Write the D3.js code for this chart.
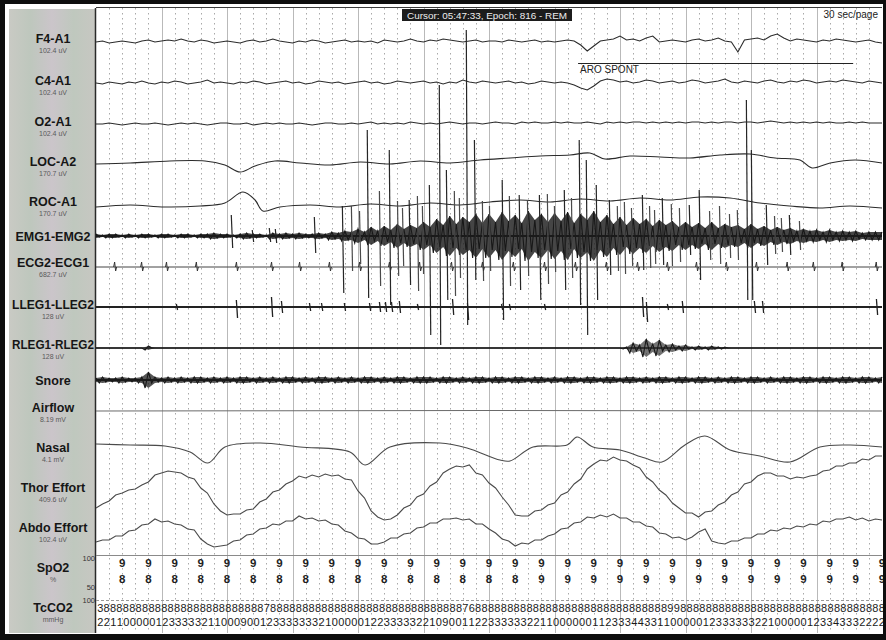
<!DOCTYPE html>
<html>
<head>
<meta charset="utf-8">
<script src="https://cdn.jsdelivr.net/npm/d3@7"></script>
<style>
  html, body { margin: 0; padding: 0; background: #fff; }
  svg { display: block; font-family: "Liberation Sans", Arial, sans-serif; }
  .grid-minor { stroke: #a9a9a9; stroke-dasharray: 1.5,3.5; }
  .grid-major { stroke: #b9b9b9; }
  .trace { fill: none; stroke: #2b2b2b; stroke-width: 1.1; }
  .trace-soft { fill: none; stroke: #4a4a4a; stroke-width: 1.1; }
  .ch-name { fill: #161616; font-size: 12.5px; font-weight: bold; text-anchor: middle; }
  .ch-unit { fill: #5a5a5a; font-size: 7px; text-anchor: middle; }
  .digit { fill: #1e1e1e; font-size: 11.5px; font-weight: bold; text-anchor: middle; }
  .tc { fill: #1a1a1a; font-size: 11px; text-anchor: middle; }
  .small { fill: #333; font-size: 7.5px; text-anchor: end; }
</style>
</head>
<body>
<svg id="chart" width="886" height="640"></svg>
<script>
// ---------- data ----------
const epochSeconds = 30
const eegStep = 0.25   // seconds between samples of the sampled traces

const cursorText = 'Cursor: 05:47:33, Epoch: 816 - REM'
const pageText = '30 sec/page'

const channelNames = ['F4-A1', 'C4-A1', 'O2-A1', 'LOC-A2', 'ROC-A1', 'EMG1-EMG2', 'ECG2-ECG1', 'LLEG1-LLEG2',
    'RLEG1-RLEG2', 'Snore', 'Airflow', 'Nasal', 'Thor Effort', 'Abdo Effort', 'SpO2', 'TcCO2']
const channelUnits = ['102.4 uV', '102.4 uV', '102.4 uV', '170.7 uV', '170.7 uV', '', '682.7 uV', '128 uV',
    '128 uV', '', '8.19 mV', '4.1 mV', '409.6 uV', '102.4 uV', '%', 'mmHg']

const f4A1 = [
    0, 1, -1, 0, 1, 0, -1, 1, 2, 0,
    1, 2, 1, 3, 1, 0, 2, 1, -1, 0,
    1, 0, -1, 1, 2, 0, 1, 3, 1, 0,
    -1, 1, 0, 2, 1, -1, 0, 1, 2, 0,
    1, 0, 1, -1, 2, 1, 0, 1, 3, 1,
    0, 2, 1, 3, 2, 1, 0, 1, 2, 0,
    1, 1, 0, 2, 1, 0, 1, 2, 0, 1,
    0, 1, 2, 1, -3, -9, -4, 1, 2, 3,
    6, 2, 3, 1, 4, 6, 0, 1, 2, 1,
    0, 2, 3, 1, 2, 4, 1, 0, -10, 2,
    3, 4, 2, 6, 8, 4, 1, 3, 2, 1,
    0, 2, 1, 3, 2, 1, 0, 1, 2, 0,
    -1]
const c4A1 = [
    0, -1, 1, 0, -1, 1, 0, 2, 0, -1,
    1, 0, 2, 1, -1, 0, 1, 3, 0, 1,
    0, -1, 1, 0, 2, 1, -1, 0, 1, 2,
    0, 1, -1, 0, 2, 1, 0, 1, -1, 0,
    1, 2, 0, 1, -1, 0, 2, 1, 0, 1,
    2, 0, 1, -1, 1, 0, 3, 1, 0, 2,
    1, 0, 1, 2, 0, 1, -1, 0, 2, 1,
    0, 1, 0, -2, -5, -7, -3, 2, 4, 3,
    1, 2, 0, 1, 3, 2, 0, 1, 2, 0,
    1, 3, 2, 0, 1, 2, 4, 1, 0, 2,
    1, 0, 2, 3, 1, 0, 2, 1, 3, 2,
    0, 1, 2, 1, 3, 2, 1, 0, 2, 1,
    0]
const o2A1 = [
    0, 0, 1, 0, -1, 0, 1, 0, 0, 1,
    0, -1, 0, 1, 0, 1, 0, -1, 0, 1,
    1, 0, 0, 1, -1, 0, 1, 0, 1, 0,
    0, 1, 0, -1, 0, 1, 1, 0, 0, 1,
    0, 1, 2, 0, 1, 0, 1, 0, 2, 1,
    0, 1, 0, 1, 2, 1, 0, 1, 1, 0,
    1, 2, 1, 1, 0, 2, 1, 2, 1, 1,
    2, 1, 2, 1, 1, 2, 1, 0, 2, 1,
    2, 1, 2, 2, 1, 2, 1, 2, 1, 2,
    1, 2, 2, 1, 2, 1, 2, 2, 1, 2,
    2, 1, 2, 3, 2, 1, 2, 1, 2, 1,
    2, 1, 2, 1, 1, 2, 1, 2, 1, 1,
    1]
const thorEffort = [
    -18, -14, -11, -5, -3, 0, 1, 5, 8, 15,
    17, 19, 18, 17, 13, 11, 2, -3, -14, -21,
    -25, -24, -24, -20, -19, -12, -9, -2, 0, 6,
    9, 14, 12, 15, 13, 16, 14, 15, 11, 10,
    -1, -8, -21, -27, -30, -29, -25, -18, -15, -7,
    -4, 4, 8, 17, 21, 24, 23, 25, 17, 15,
    7, 2, -7, -15, -25, -26, -26, -21, -20, -15,
    -13, -5, -2, 6, 11, 21, 26, 30, 29, 33,
    30, 29, 25, 22, 13, 8, 0, -5, -13, -18,
    -23, -23, -27, -22, -21, -15, -12, -5, -2, 6,
    8, 14, 17, 17, 14, 14, 11, 13, 12, 14,
    15, 19, 20, 24, 24, 27, 27, 31, 30, 34,
    34]
const abdoEffort = [
    -12, -10, -10, -6, -6, -1, 0, 5, 6, 11,
    8, 9, 6, 5, 1, 0, -9, -14, -17, -16,
    -15, -11, -10, -5, -4, 1, 2, 6, 5, 9,
    9, 14, 11, 12, 9, 10, 6, 5, -1, -3,
    -8, -9, -14, -14, -12, -8, -8, -4, -3, 2,
    3, 7, 7, 11, 11, 12, 10, 11, 6, 6,
    1, -3, -9, -11, -16, -13, -14, -10, -10, -6,
    -4, 1, 2, 7, 8, 13, 12, 15, 13, 16,
    12, 12, 8, 8, 4, 3, -3, -4, -8, -7,
    -10, -7, -2, 1, -11, -13, -14, -11, -11, -8,
    -8, -4, -4, 0, -1, 2, 1, 4, 3, 6,
    5, 9, 8, 11, 11, 13, 10, 12, 9, 11,
    10]

// slow channels: sample times (s) and values
const locT = [0, 1.3, 2.82, 4.16, 4.92, 5.5, 6.07, 6.83, 7.79, 8.93, 10.08, 11.22, 12.37, 13.51, 14.66, 15.8,
    16.95, 18.09, 18.85, 19.43, 20.38, 21.53, 22.67, 23.82, 24.96, 25.92, 26.87, 27.33, 28.02, 28.97, 30]
const locV = [-1, 0, 2, 2, -2, -9, -3, 2, 0, -2, 1, -1, 2, 0, 3, 5, 7, 8, 10, 4, 7, 6, 5, 8, 9, 5, 3, -5, 0, 3, 0]
const rocT = [0, 1.3, 2.63, 3.97, 4.92, 5.61, 6.07, 6.37, 7.02, 8.17, 9.31, 10.46, 11.6, 12.75, 13.89, 15.04,
    16.18, 17.33, 18.47, 19.62, 20.76, 21.91, 23.05, 24.2, 25.34, 26.49, 27.63, 28.78, 30]
const rocV = [-2, 0, -2, -1, 2, 13, 5, -6, -2, 0, -2, 1, -1, 2, 0, 3, 5, 3, 6, 4, 7, 5, 8, 7, 2, -1, -3, -1, -3]
const nasalT = [0, 1.3, 2.63, 3.59, 4.27, 4.92, 6.26, 7.79, 9.69, 10.27, 11.22, 13.13, 14.16, 15.42, 15.8, 16.68,
    17.98, 18.36, 18.97, 20.0, 20.95, 21.6, 22.48, 23.24, 24.2, 25.34, 26.49, 27.63, 28.78, 30]
const nasalV = [6, 5, 4, -2, -13, 3, 7, 3, -2, -15, 3, 7, 2, -10, -11, 3, 5, 13, 3, 0, -8, -12, 5, 14, 0, -6, -12, 3, 5, 3]
const airflowT = [0, 15, 30]
const airflowV = [0, 0.5, 0]

// envelope (half amplitude) of the dense traces
const emgEnv = [
    2, 1, 2, 2, 1, 2, 1, 2, 2, 1,
    2, 2, 1, 2, 2, 1, 2, 2, 3, 2,
    2, 1, 2, 3, 2, 2, 1, 3, 2, 3,
    2, 3, 2, 2, 3, 2, 4, 3, 5, 4,
    7, 4, 9, 5, 10, 6, 12, 7, 11, 8,
    14, 9, 17, 11, 20, 12, 19, 14, 22, 13,
    22, 14, 24, 15, 21, 13, 25, 16, 22, 14,
    23, 15, 24, 13, 22, 16, 25, 14, 21, 12,
    19, 11, 18, 12, 17, 10, 16, 11, 15, 9,
    14, 9, 13, 8, 14, 8, 12, 9, 11, 7,
    12, 7, 10, 6, 9, 6, 8, 5, 7, 5,
    6, 4, 6, 4, 5, 4, 5, 3, 4, 4,
    4]
const snoreEnv = [
    2, 3, 2, 2, 3, 2, 2, 3, 8, 3,
    2, 3, 2, 3, 2, 3, 3, 2, 3, 2,
    3, 2, 3, 3, 2, 3, 2, 3, 2, 3,
    3, 2, 3, 2, 3, 3, 2, 3, 2, 3,
    2, 3, 3, 2, 3, 2, 3, 3, 2, 3,
    3, 3, 2, 3, 3, 2, 3, 2, 3, 3,
    2, 3, 3, 2, 3, 3, 2, 3, 3, 2,
    3, 2, 3, 3, 2, 3, 3, 2, 3, 3,
    2, 3, 3, 2, 3, 2, 3, 3, 2, 3,
    3, 2, 3, 3, 2, 3, 2, 3, 3, 2,
    3, 3, 2, 3, 2, 3, 3, 2, 3, 3,
    2, 3, 3, 2, 3, 3, 2, 3, 3, 2,
    3]
const rlegEnv = [
    0, 0, 0, 0, 0, 0, 0, 0, 2, 0,
    0, 0, 0, 0, 0, 0, 0, 0, 0, 0,
    0, 0, 0, 0, 0, 0, 0, 0, 0, 0,
    0, 0, 0, 0, 0, 0, 0, 0, 0, 0,
    0, 0, 0, 0, 0, 0, 0, 0, 0, 0,
    0, 0, 0, 0, 0, 0, 0, 0, 0, 0,
    0, 0, 0, 0, 0, 0, 0, 0, 0, 0,
    0, 0, 0, 0, 0, 0, 0, 0, 0, 0,
    0, 1, 5, 3, 9, 4, 8, 3, 4, 2,
    3, 1, 2, 1, 2, 1, 1, 0, 0, 0,
    0, 0, 0, 0, 0, 0, 0, 0, 0, 0,
    0, 0, 0, 0, 0, 0, 0, 0, 0, 0,
    0]

// large EMG discharges: time (s), extent above / below the EMG baseline
const emgSpikeT = [5.19, 5.99, 6.64, 6.87, 8.36, 9.43, 10.38, 11.22, 11.98, 12.75, 13.13, 13.4, 14.16, 14.47,
    15.53, 16.18, 16.95, 17.9, 18.47, 18.74, 19.12, 19.62, 20.88, 21.64, 22.67, 23.05, 24.85, 25.04, 25.61, 26.49]
const emgSpikeUp = [21, 6, 8, 7, 19, 30, 106, 86, 36, 51, 151, 66, 206, 96, 56, 41, 41, 46, 96, 76, 51, 36, 41,
    38, 31, 46, 136, 86, 31, 21]
const emgSpikeDown = [12, 6, 6, 7, 17, 57, 62, 69, 49, 99, 109, 64, 89, 44, 84, 54, 64, 54, 69, 99, 64, 39, 34,
    29, 19, 44, 64, 64, 29, 19]
// smaller discharges inside the burst
const emgBurstT = [9.77, 10.08, 10.84, 11.53, 11.72, 12.29, 12.48, 13.7, 13.89, 14.77, 15.04, 15.8, 16.49, 17.25,
    17.52, 18.17, 19.92, 20.19, 20.46, 21.15, 21.34, 21.98, 22.29, 23.44, 23.82, 24.2, 24.5, 25.92, 26.18, 26.87]
const emgBurstUp = [30, 25, 45, 35, 28, 40, 30, 45, 38, 35, 30, 40, 36, 42, 30, 38, 30, 34, 28, 30, 26, 32, 28,
    25, 30, 22, 26, 20, 18, 15]
const emgBurstDown = [35, 28, 50, 40, 30, 55, 38, 60, 42, 45, 35, 50, 40, 48, 36, 42, 35, 38, 30, 32, 28, 30, 26,
    24, 28, 22, 24, 18, 16, 14]

const ecgBeatT = [0.73, 1.76, 2.71, 3.85, 5.38, 6.72, 7.79, 8.93, 10.08, 11.22, 12.37, 13.59, 14.77, 15.95, 17.14,
    18.32, 19.5, 20.69, 21.83, 22.94, 24.08, 25.23, 26.4, 27.4, 28.5, 29.8]

const llegSpikeT = [3.09, 5.38, 6.72, 7.1, 8.17, 8.63, 9.5, 10.46, 10.84, 11.07, 11.3, 11.6, 12.29, 13.63, 14.2,
    15.5, 15.8, 17.14, 20.88, 21.03, 21.83, 22.4, 25.15, 25.46, 29.81]
const llegSpikeUp = [3, 7, 10, 6, 4, 4, 4, 4, 5, 5, 5, 6, 3, 8, 4, 3, 3, 3, 10, 5, 3, 6, 6, 6, 8]
const llegSpikeDown = [3, 11, 10, 6, 4, 4, 4, 4, 5, 5, 5, 6, 3, 8, 13, 3, 3, 3, 10, 15, 3, 6, 6, 6, 8]

const eventLabels = ['ARO SPONT']
const eventStart = [18.4]
const eventEnd = [28.9]

// SpO2 (%) once per second, seconds 1..30
const spo2 = [98, 98, 98, 98, 98, 98, 98, 98, 98, 98, 98, 98, 98, 98, 98, 98,
    99, 99, 99, 99, 99, 99, 99, 99, 99, 99, 99, 99, 99, 99]
const spo2Ticks = ['100', '50']
const tcco2Ticks = ['100']
const tcco2Top = '3888888888' + '8888888888' + '8888887888' + '8888888888' + '8888888888' + '8888888768' +
    '8888888888' + '8888888888' + '8888888889' + '9888888888' + '8888888888' + '8888888888' + '888'
const tcco2Bottom = '2211000001' + '2333332110' + '0090012333' + '3' +
    '3332100000' + '1223333322' + '1090011223' + '3333322110' + '000001' +
    '1233344331' + '1000001233' + '3333221000' + '0012334333' + '2222'

// ---------- layout ----------
const W = 886, H = 640
const plot = { left: 96, right: 882, top: 8, bottom: 633 }
const panel = { left: 9, right: 95, cx: 53 }
const nameY = [44, 86, 127, 167, 207, 242, 268, 310, 350, 386, 413, 453, 493, 533, 573, 613]
const base = { f4: 42, c4: 83, o2: 124, loc: 163, roc: 205, emg: 236, ecg: 267, lleg: 307, rleg: 348,
    snore: 380, airflow: 411, nasal: 450, thor: 490, abdo: 530 }

const svg = d3.select('#chart')
const x = d3.scaleLinear().domain([0, epochSeconds]).range([plot.left, plot.right])
const rowScale = (b) => d3.scaleLinear().domain([-1, 1]).range([b + 1, b - 1])

// frame
svg.append('rect').attr('width', W).attr('height', H).attr('fill', '#0e0e0e')
svg.append('rect').attr('x', 5).attr('y', 4).attr('width', 878).attr('height', 630).attr('fill', '#fff')

// label panel
const defs = svg.append('defs')
const grad = defs.append('linearGradient').attr('id', 'panelGrad')
const stops = [[0, '#c9cac4'], [0.25, '#bec7bd'], [0.5, '#cbc5ca'], [0.75, '#bfc8be'], [1, '#c7c7c2']]
stops.forEach(s => grad.append('stop').attr('offset', s[0]).attr('stop-color', s[1]))
svg.append('rect').attr('x', panel.left).attr('y', 9).attr('width', panel.right - panel.left)
    .attr('height', plot.bottom - 9).attr('fill', 'url(#panelGrad)')

// grid
const minorTicks = d3.range(0.5, epochSeconds, 0.5).filter(t => Math.abs(t / 2.5 - Math.round(t / 2.5)) > 1e-6)
const majorTicks = d3.range(2.5, epochSeconds, 2.5)
const gridG = svg.append('g')
gridG.selectAll('.grid-minor').data(minorTicks).join('line').attr('class', 'grid-minor')
    .attr('x1', t => Math.round(x(t)) + 0.5).attr('x2', t => Math.round(x(t)) + 0.5)
    .attr('y1', plot.top).attr('y2', plot.bottom)
gridG.selectAll('.grid-major').data(majorTicks).join('line').attr('class', 'grid-major')
    .attr('x1', t => Math.round(x(t)) + 0.5).attr('x2', t => Math.round(x(t)) + 0.5)
    .attr('y1', plot.top).attr('y2', plot.bottom)

// plot borders
svg.append('path').attr('d', `M ${plot.left - 0.5} ${plot.top} V ${plot.bottom}`).attr('stroke', '#2a2a2a').attr('stroke-width', 1.5)
svg.append('path').attr('d', `M ${plot.left} ${plot.top - 0.5} H ${plot.right}`).attr('stroke', '#3a3a3a').attr('stroke-width', 1)
svg.append('path').attr('d', `M ${plot.left} 555.5 H ${plot.right}`).attr('stroke', '#8a8a8a').attr('stroke-width', 1)
svg.append('path').attr('d', `M ${plot.left} 600.5 H ${plot.right}`).attr('stroke', '#999').attr('stroke-dasharray', '3,2')

// header
svg.append('rect').attr('x', 402).attr('y', 9).attr('width', 170).attr('height', 12).attr('fill', '#1c1c1c')
svg.append('text').attr('x', 487).attr('y', 18.5).attr('text-anchor', 'middle').attr('fill', '#eee')
    .attr('font-size', 9).attr('textLength', 160).attr('lengthAdjust', 'spacingAndGlyphs').text(cursorText)
svg.append('text').attr('x', 878).attr('y', 18).attr('text-anchor', 'end').attr('fill', '#222')
    .attr('font-size', 10).text(pageText)

// channel labels
const labG = svg.append('g')
labG.selectAll('.ch-name').data(channelNames).join('text').attr('class', 'ch-name')
    .attr('x', panel.cx).attr('y', (d, i) => nameY[i] - 1).text(d => d)
    .each(function () {
        if (this.getComputedTextLength() > 82) d3.select(this).attr('textLength', 82).attr('lengthAdjust', 'spacingAndGlyphs')
    })
labG.selectAll('.ch-unit').data(channelUnits).join('text').attr('class', 'ch-unit')
    .attr('x', panel.cx).attr('y', (d, i) => nameY[i] + 8.5).text(d => d)

const traceG = svg.append('g')

// sampled channels
const sampledLine = (b) => d3.line().x((d, i) => x(i * eegStep)).y(d => rowScale(b)(d))
;[[f4A1, base.f4], [c4A1, base.c4], [o2A1, base.o2]].forEach(([vals, b]) => {
    traceG.append('path').datum(vals).attr('class', 'trace').attr('d', sampledLine(b))
})
;[[thorEffort, base.thor], [abdoEffort, base.abdo]].forEach(([vals, b]) => {
    traceG.append('path').datum(vals).attr('class', 'trace-soft').attr('d', sampledLine(b))
})

// slow channels
const slowLine = (times, b) => d3.line().x((d, i) => x(times[i])).y(d => rowScale(b)(d)).curve(d3.curveCatmullRom.alpha(0.5))
;[[locT, locV, base.loc], [rocT, rocV, base.roc]].forEach(([t, v, b]) => {
    traceG.append('path').datum(v).attr('class', 'trace').attr('d', slowLine(t, b))
})
traceG.append('path').datum(nasalV).attr('class', 'trace-soft').attr('d', slowLine(nasalT, base.nasal))

traceG.append('path').datum(airflowV).attr('fill', 'none').attr('stroke', '#6a6a6a').attr('stroke-width', 1)
    .attr('d', d3.line().x((d, i) => x(airflowT[i])).y(d => rowScale(base.airflow)(d)))

// dense channels drawn as an envelope band + oscillation inside it
function drawBand(env, b, fill, lineW) {
    const y = rowScale(b)
    traceG.append('path').datum(env).attr('fill', fill)
        .attr('d', d3.area().x((d, i) => x(i * eegStep)).y0(d => y(-d)).y1(d => y(d)))
    const pts = []
    env.forEach((d, i) => { pts.push([i * eegStep, d]); pts.push([(i + 0.5) * eegStep, -(env[i + 1] ?? d)]) })
    traceG.append('path').datum(pts.filter(p => p[0] <= epochSeconds)).attr('fill', 'none')
        .attr('stroke', '#181818').attr('stroke-width', 1.1)
        .attr('d', d3.line().x(p => x(p[0])).y(p => y(p[1])))
    traceG.append('path').attr('d', `M ${plot.left} ${y(0)} H ${plot.right}`).attr('stroke', '#1a1a1a').attr('stroke-width', lineW)
}
drawBand(emgEnv, base.emg, 'rgba(28,28,28,0.82)', 2)
drawBand(snoreEnv, base.snore, 'rgba(30,30,30,0.75)', 2)
drawBand(rlegEnv, base.rleg, 'rgba(40,40,40,0.65)', 1.3)

// EMG discharges
const yEmg = rowScale(base.emg)
traceG.selectAll('.emg-burst').data(emgBurstT).join('path').attr('class', 'emg-burst')
    .attr('d', (t, i) => `M ${x(t) - 0.6} ${yEmg(emgBurstUp[i])} L ${x(t) + 0.6} ${yEmg(-emgBurstDown[i])}`)
    .attr('stroke', '#4a4a4a').attr('stroke-width', 1.2).attr('fill', 'none')
traceG.selectAll('.emg-spike').data(emgSpikeT).join('path').attr('class', 'emg-spike')
    .attr('d', (t, i) => `M ${x(t) - 0.7} ${yEmg(emgSpikeUp[i])} L ${x(t) + 0.7} ${yEmg(-emgSpikeDown[i])}`)
    .attr('stroke', '#262626').attr('stroke-width', 1.2).attr('fill', 'none')

// ECG
const yEcg = rowScale(base.ecg)
traceG.append('path').attr('d', `M ${plot.left} ${yEcg(0)} H ${plot.right}`).attr('stroke', '#444').attr('stroke-width', 1)
traceG.selectAll('.ecg-beat').data(ecgBeatT).join('path').attr('class', 'ecg-beat')
    .attr('d', t => `M ${x(t) - 1.5} ${yEcg(0)} L ${x(t) - 0.5} ${yEcg(5)} L ${x(t) + 0.5} ${yEcg(-4)} L ${x(t) + 1.5} ${yEcg(0)}`)
    .attr('stroke', '#333').attr('stroke-width', 1).attr('fill', 'none')

// LLEG
const yLleg = rowScale(base.lleg)
traceG.append('path').attr('d', `M ${plot.left} ${yLleg(0)} H ${plot.right}`).attr('stroke', '#222').attr('stroke-width', 1.8)
traceG.selectAll('.lleg-spike').data(llegSpikeT).join('path').attr('class', 'lleg-spike')
    .attr('d', (t, i) => `M ${x(t) - 0.6} ${yLleg(llegSpikeUp[i])} L ${x(t) + 0.6} ${yLleg(-llegSpikeDown[i])}`)
    .attr('stroke', '#222').attr('stroke-width', 1.3).attr('fill', 'none')

// scoring event
const evG = svg.append('g')
evG.selectAll('.ev-line').data(eventLabels).join('path').attr('class', 'ev-line')
    .attr('d', (d, i) => `M ${x(eventStart[i])} 63.5 H ${x(eventEnd[i])}`).attr('stroke', '#222').attr('stroke-width', 1.2)
evG.selectAll('.ev-text').data(eventLabels).join('text').attr('class', 'ev-text')
    .attr('x', (d, i) => x(eventStart[i]) + 2).attr('y', 73).attr('font-size', 10).attr('fill', '#222').text(d => d)

// SpO2 digits
const spoG = svg.append('g')
spoG.selectAll('.spo-top').data(spo2).join('text').attr('class', 'digit')
    .attr('x', (d, i) => x(i + 1)).attr('y', 567).text(d => String(d)[0])
spoG.selectAll('.spo-bot').data(spo2).join('text').attr('class', 'digit')
    .attr('x', (d, i) => x(i + 1)).attr('y', 583).text(d => String(d)[1])
svg.append('text').attr('class', 'small').attr('x', 95).attr('y', 561).text(spo2Ticks[0])
svg.append('text').attr('class', 'small').attr('x', 95).attr('y', 590).text(spo2Ticks[1])
svg.append('text').attr('class', 'small').attr('x', 95).attr('y', 603).text(tcco2Ticks[0])

// TcCO2 digit rows
const tcG = svg.append('g')
;[[tcco2Top, 612], [tcco2Bottom, 626]].forEach(([str, yy]) => {
    const cx = d3.scaleLinear().domain([0, str.length]).range([plot.left + 1, plot.right + 3])
    tcG.selectAll(null).data(str.split('')).join('text').attr('class', 'tc')
        .attr('x', (d, i) => cx(i + 0.5)).attr('y', yy).text(d => d)
})

// redraw right/bottom frame over overflowing text
svg.append('rect').attr('x', 883).attr('y', 0).attr('width', 3).attr('height', H).attr('fill', '#0e0e0e')
svg.append('rect').attr('x', 0).attr('y', 634).attr('width', W).attr('height', 6).attr('fill', '#0e0e0e')
</script>
</body>
</html>
